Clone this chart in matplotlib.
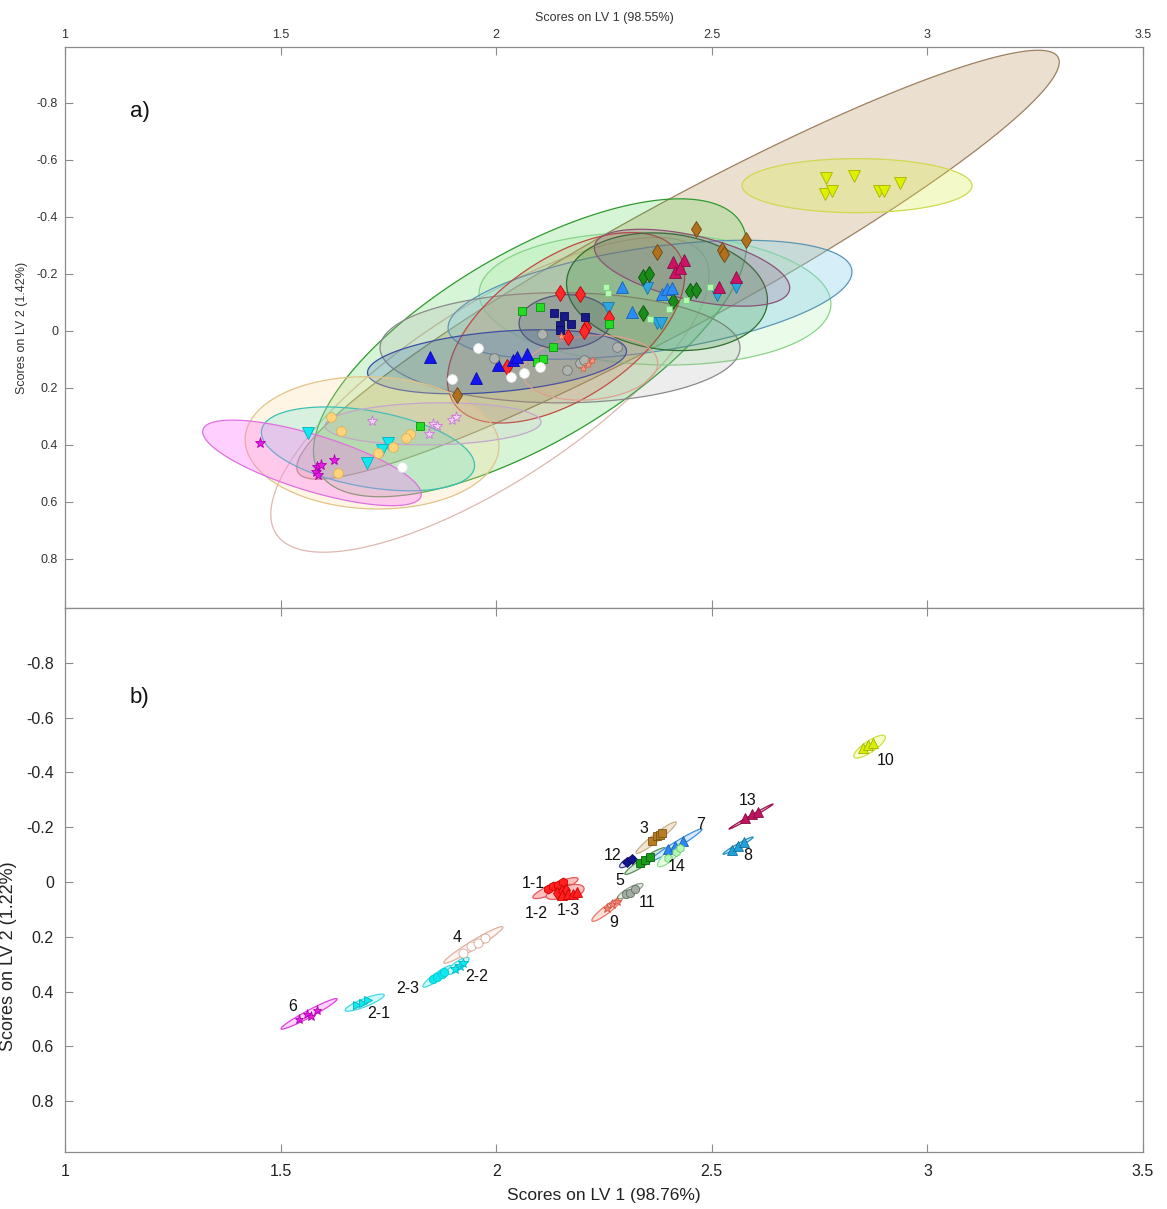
import numpy as np
import matplotlib
matplotlib.use("Agg")
import matplotlib.pyplot as plt
from matplotlib.patches import Polygon

plt.rcParams['font.family'] = ['Liberation Sans', 'DejaVu Sans']

# ---------------- Panel a: scores (LV1, LV2) ----------------
a_groups = ['brown', 'yellow', 'skyblue', 'crimson', 'dgreen', 'dodger', 'pgreen', 'red',
            'navy', 'lime', 'blue', 'white', 'gray', 'salmon', 'violet', 'magenta', 'cyan', 'orange']
a_x = {
    'brown':   [1.909, 2.373, 2.463, 2.524, 2.528, 2.579],
    'yellow':  [2.764, 2.830, 2.763, 2.778, 2.888, 2.900, 2.936],
    'skyblue': [2.350, 2.259, 2.373, 2.382, 2.512, 2.556],
    'crimson': [2.410, 2.436, 2.415, 2.426, 2.517, 2.556],
    'dgreen':  [2.340, 2.354, 2.410, 2.449, 2.463, 2.340],
    'dodger':  [2.292, 2.315, 2.385, 2.396, 2.408],
    'pgreen':  [2.255, 2.259, 2.357, 2.401, 2.440, 2.496],
    'red':     [2.148, 2.194, 2.208, 2.204, 2.167, 2.025, 2.262],
    'navy':    [2.134, 2.157, 2.206, 2.173, 2.148, 2.148],
    'lime':    [2.060, 2.102, 2.132, 2.095, 2.109, 2.262, 1.823],
    'blue':    [1.847, 1.953, 2.004, 2.039, 2.048, 2.071],
    'white':   [1.958, 1.897, 2.034, 2.064, 2.102, 1.782],
    'gray':    [2.106, 1.995, 2.164, 2.194, 2.204, 2.280],
    'salmon':  [2.201, 2.222, 2.213, 2.150],
    'violet':  [1.712, 1.853, 1.863, 1.844, 1.897, 1.907],
    'magenta': [1.452, 1.584, 1.594, 1.582, 1.587, 1.624],
    'cyan':    [1.564, 1.749, 1.735, 1.700],
    'orange':  [1.617, 1.640, 1.800, 1.791, 1.761, 1.726, 1.633],
}
a_y = {
    'brown':   [0.225, -0.277, -0.358, -0.284, -0.270, -0.319],
    'yellow':  [-0.536, -0.544, -0.481, -0.489, -0.489, -0.489, -0.518],
    'skyblue': [-0.151, -0.081, -0.028, -0.028, -0.126, -0.154],
    'crimson': [-0.242, -0.249, -0.207, -0.221, -0.154, -0.189],
    'dgreen':  [-0.189, -0.200, -0.105, -0.140, -0.144, -0.063],
    'dodger':  [-0.154, -0.067, -0.130, -0.147, -0.151],
    'pgreen':  [-0.154, -0.133, -0.042, -0.077, -0.109, -0.154],
    'red':     [-0.133, -0.130, -0.014, 0.000, 0.021, 0.126, -0.046],
    'navy':    [-0.063, -0.053, -0.049, -0.025, -0.021, -0.004],
    'lime':    [-0.070, -0.084, 0.056, 0.109, 0.098, -0.025, 0.333],
    'blue':    [0.091, 0.165, 0.119, 0.102, 0.091, 0.081],
    'white':   [0.060, 0.168, 0.161, 0.147, 0.126, 0.477],
    'gray':    [0.011, 0.095, 0.137, 0.112, 0.102, 0.056],
    'salmon':  [0.130, 0.102, 0.116, 0.018],
    'violet':  [0.316, 0.326, 0.333, 0.361, 0.312, 0.302],
    'magenta': [0.393, 0.477, 0.470, 0.495, 0.505, 0.453],
    'cyan':    [0.358, 0.393, 0.418, 0.463],
    'orange':  [0.302, 0.351, 0.361, 0.375, 0.407, 0.428, 0.498],
}
# confidence ellipses, panel a: centre, semi-major vector (data units), minor/major ratio
a_ell_groups = ['white', 'brown', 'lime', 'pgreen', 'skyblue', 'gray', 'red', 'dgreen', 'crimson',
                'yellow', 'blue', 'orange', 'cyan', 'magenta', 'violet', 'salmon', 'navy']
a_ell_cx = [1.9856, 2.4216, 2.0784, 2.3683, 2.3567, 2.1480, 2.1619, 2.3961, 2.4541,
            2.8367, 2.0019, 1.7120, 1.7027, 1.5728, 1.8534, 2.2175, 2.1596]
a_ell_cy = [0.2246, -0.2316, 0.0596, -0.1123, -0.1088, 0.0596, -0.0105, -0.1368, -0.2211,
            -0.5088, 0.1088, 0.3930, 0.4140, 0.4632, 0.3263, 0.1298, -0.0316]
a_ell_ux = [0.4960, 0.8815, 0.4896, 0.4079, 0.4680, 0.4174, 0.2596, 0.2324, 0.2259,
            0.2667, 0.3003, 0.2943, 0.2467, 0.2528, 0.2505, 0.1570, 0.1065]
a_ell_uy = [-0.4874, -0.7274, -0.4362, 0.0214, -0.1046, 0.0000, -0.2649, 0.0432, 0.0789,
            0.0000, -0.0398, 0.0155, 0.0660, 0.1169, -0.0066, -0.0208, -0.0084]
a_ell_ratio = [0.345, 0.143, 0.388, 0.375, 0.255, 0.306, 0.518, 0.574, 0.32,
               0.235, 0.231, 0.52, 0.352, 0.246, 0.194, 0.47, 0.587]

# ---------------- Panel b: scores (LV1, LV2) ----------------
b_groups = ['6', '2-1', '2-3', '2-2', '4', '1-1', '1-2', '1-3', '9', '11', '3', '12', '5',
            '7', '14', '13', '8', '10']
b_x = {
    '6':   [1.543, 1.561, 1.571, 1.584],
    '2-1': [1.677, 1.691, 1.702],
    '2-3': [1.853, 1.863, 1.874, 1.879],
    '2-2': [1.904, 1.916, 1.923],
    '4':   [1.923, 1.942, 1.958, 1.974],
    '1-1': [2.120, 2.132, 2.143, 2.155],
    '1-2': [2.141, 2.153, 2.162],
    '1-3': [2.153, 2.167, 2.178, 2.187],
    '9':   [2.257, 2.269, 2.280],
    '11':  [2.301, 2.310, 2.322],
    '3':   [2.361, 2.372, 2.379, 2.384],
    '12':  [2.303, 2.315],
    '5':   [2.333, 2.345, 2.357],
    '7':   [2.398, 2.415, 2.433],
    '14':  [2.398, 2.417, 2.426],
    '13':  [2.577, 2.593, 2.607],
    '8':   [2.547, 2.561, 2.575],
    '10':  [2.851, 2.862, 2.874],
}
b_y = {
    '6':   [0.499, 0.481, 0.488, 0.466],
    '2-1': [0.448, 0.441, 0.430],
    '2-3': [0.353, 0.346, 0.335, 0.328],
    '2-2': [0.317, 0.306, 0.295],
    '4':   [0.259, 0.233, 0.222, 0.204],
    '1-1': [0.026, 0.015, 0.011, 0.000],
    '1-2': [0.040, 0.033, 0.029],
    '1-3': [0.047, 0.044, 0.044, 0.036],
    '9':   [0.095, 0.080, 0.069],
    '11':  [0.044, 0.040, 0.026],
    '3':   [-0.149, -0.168, -0.171, -0.179],
    '12':  [-0.073, -0.084],
    '5':   [-0.069, -0.080, -0.091],
    '7':   [-0.120, -0.131, -0.149],
    '14':  [-0.087, -0.109, -0.124],
    '13':  [-0.233, -0.248, -0.255],
    '8':   [-0.117, -0.131, -0.146],
    '10':  [-0.488, -0.499, -0.506],
}
b_ell_cx = {'6': 1.566, '2-1': 1.695, '2-3': 1.864, '2-2': 1.911, '4': 1.947, '1-1': 2.1375,
            '1-2': 2.153, '1-3': 2.171, '9': 2.257, '11': 2.311, '3': 2.371, '12': 2.304,
            '5': 2.345, '7': 2.417, '14': 2.404, '13': 2.591, '8': 2.561, '10': 2.866}
b_ell_cy = {'6': 0.481, '2-1': 0.440, '2-3': 0.344, '2-2': 0.306, '4': 0.2295, '1-1': 0.022,
            '1-2': 0.036, '1-3': 0.036, '9': 0.100, '11': 0.033, '3': -0.162, '12': -0.073,
            '5': -0.0765, '7': -0.135, '14': -0.098, '13': -0.239, '8': -0.133, '10': -0.494}
b_ell_ux = {'6': 0.0649, '2-1': 0.0452, '2-3': 0.0336, '2-2': 0.0255, '4': 0.0684, '1-1': 0.0522,
            '1-2': 0.037, '1-3': 0.0325, '9': 0.0348, '11': 0.029, '3': 0.0464, '12': 0.0174,
            '5': 0.0464, '7': 0.0603, '14': 0.029, '13': 0.051, '8': 0.0348, '10': 0.036}
b_ell_uy = {'6': -0.0546, '2-1': -0.0281, '2-3': -0.0383, '2-2': -0.0291, '4': -0.0656, '1-1': -0.0346,
            '1-2': -0.018, '1-3': -0.0146, '9': -0.0419, '11': -0.0255, '3': -0.0565, '12': -0.0182,
            '5': -0.0474, '7': -0.0583, '14': -0.040, '13': -0.0455, '8': -0.031, '10': -0.038}
b_ell_ratio = {'6': 0.11, '2-1': 0.19, '2-3': 0.2, '2-2': 0.3, '4': 0.12, '1-1': 0.2,
               '1-2': 0.35, '1-3': 0.45, '9': 0.2, '11': 0.25, '3': 0.15, '12': 0.35,
               '5': 0.15, '7': 0.1, '14': 0.3, '13': 0.05, '8': 0.1, '10': 0.3}
b_label_x = {'6': 1.529, '2-1': 1.728, '2-3': 1.795, '2-2': 1.955, '4': 1.909, '1-1': 2.085,
             '1-2': 2.092, '1-3': 2.167, '9': 2.273, '11': 2.350, '3': 2.343, '12': 2.269,
             '5': 2.287, '7': 2.475, '14': 2.419, '13': 2.582, '8': 2.584, '10': 2.902}
b_label_y = {'6': 0.455, '2-1': 0.481, '2-3': 0.390, '2-2': 0.346, '4': 0.204, '1-1': 0.004,
             '1-2': 0.113, '1-3': 0.102, '9': 0.146, '11': 0.073, '3': -0.197, '12': -0.098,
             '5': -0.007, '7': -0.211, '14': -0.055, '13': -0.299, '8': -0.098, '10': -0.444}

xticks = [1, 1.5, 2, 2.5, 3, 3.5]
xticklabels = ['1', '1.5', '2', '2.5', '3', '3.5']
yticks = [-0.8, -0.6, -0.4, -0.2, 0, 0.2, 0.4, 0.6, 0.8]
yticklabels = ['-0.8', '-0.6', '-0.4', '-0.2', '0', '0.2', '0.4', '0.6', '0.8']

# ---------------- styles ----------------
a_mstyle = {
    'brown':   ('d', '#b0701c', '#6e4510', 8),
    'yellow':  ('v', '#dcf000', '#a8b400', 8),
    'skyblue': ('v', '#2ea6e0', '#1a78a8', 8),
    'crimson': ('^', '#cc1466', '#8a0c44', 8),
    'dgreen':  ('d', '#1a8c1a', '#0c500c', 8),
    'dodger':  ('^', '#2a8cf5', '#1a62b8', 8),
    'pgreen':  ('s', '#b4f8b4', '#78d078', 5),
    'red':     ('d', '#ff2a2a', '#c00000', 8),
    'navy':    ('s', '#181a8c', '#0c0c58', 6),
    'lime':    ('s', '#22dd22', '#109010', 5.5),
    'blue':    ('^', '#1414f0', '#0a0ab0', 8),
    'white':   ('o', '#ffffff', '#e6e6e6', 7),
    'gray':    ('o', '#b0b4b0', '#6e786e', 7),
    'salmon':  ('*', '#f89880', '#d86850', 6),
    'violet':  ('*', '#f4d0f4', '#c878d8', 8),
    'magenta': ('*', '#e41ee4', '#b000b0', 8),
    'cyan':    ('v', '#10e8f0', '#00b0c0', 8),
    'orange':  ('o', '#ffd47c', '#e0b050', 7),
}
a_estyle = {
    'white':   ((1, 1, 1, 0.0), '#dcb8b0'),
    'brown':   ((0.78, 0.66, 0.47, 0.35), '#9c8060'),
    'lime':    ((0.20, 0.80, 0.20, 0.20), '#2f9a2f'),
    'pgreen':  ((0.56, 0.93, 0.56, 0.18), '#88d488'),
    'skyblue': ((0.53, 0.81, 0.92, 0.35), '#5a96b4'),
    'gray':    ((0.62, 0.62, 0.62, 0.18), '#8a8a8a'),
    'red':     ((0.82, 0.40, 0.28, 0.17), '#c04a40'),
    'dgreen':  ((0.13, 0.52, 0.13, 0.20), '#2e6e2e'),
    'crimson': ((0.58, 0.30, 0.55, 0.22), '#8e5078'),
    'yellow':  ((0.86, 0.92, 0.24, 0.28), '#d0d850'),
    'blue':    ((0.16, 0.38, 0.72, 0.22), '#3e4ea0'),
    'orange':  ((1.00, 0.86, 0.58, 0.25), '#e2c488'),
    'cyan':    ((0.25, 0.88, 0.82, 0.20), '#3cc0b4'),
    'magenta': ((1.00, 0.40, 1.00, 0.30), '#e070e0'),
    'violet':  ((0.78, 0.62, 0.80, 0.12), '#c4a6cc'),
    'salmon':  ((0.98, 0.50, 0.45, 0.07), '#e0a090'),
    'navy':    ((0.28, 0.28, 0.45, 0.22), '#55557a'),
}
b_style = {
    '6':   ('*', '#e224e2', '#b000b0', 6.5, '#ffd6ff', '#e040e0'),
    '2-1': ('>', '#10e8f0', '#00b0c0', 6, '#cffafa', '#40d8e4'),
    '2-3': ('o', '#10e8f0', '#00c8d8', 6, '#cffafa', '#40d8e4'),
    '2-2': ('*', '#10e8f0', '#00b8c8', 7, '#cffafa', '#40d8e4'),
    '4':   ('o', '#ffffff', '#d8a898', 6.5, '#fff4f0', '#e0b0a0'),
    '1-1': ('h', '#ff2020', '#d00000', 6.5, '#ffc0c0', '#e05858'),
    '1-2': ('d', '#ff2020', '#d00000', 6.5, '#ffc0c0', '#e05858'),
    '1-3': ('^', '#ff2020', '#d00000', 6.5, '#ffc0c0', '#e05858'),
    '9':   ('*', '#f48070', '#d05848', 6.5, '#ffe0d8', '#e87a68'),
    '11':  ('o', '#a4aca4', '#607060', 6, '#e4ece4', '#90a090'),
    '3':   ('s', '#b87c22', '#7a5414', 5.5, '#f2e6d2', '#c8b090'),
    '12':  ('D', '#14148c', '#0a0a60', 5, '#d8d8f0', '#404090'),
    '5':   ('s', '#1c9a1c', '#0c600c', 5.5, '#d4ecd4', '#5a8a5a'),
    '7':   ('^', '#2a88f0', '#1460c0', 6.5, '#d8eaff', '#3e8ee0'),
    '14':  ('h', '#b4f8b4', '#70c870', 6, '#e4ffe4', '#90e090'),
    '13':  ('^', '#c41262', '#80103e', 6.5, '#f0c8d8', '#a01050'),
    '8':   ('^', '#22a2d8', '#12709e', 6.5, '#d4eef8', '#2090c0'),
    '10':  ('^', '#d8f000', '#a0b000', 6.5, '#f8ffc8', '#cce040'),
}


def draw_ellipse(ax, cx, cy, ux, uy, ratio, face, edge, lw=0.9, z=1):
    """Ellipse from centre + semi-major vector (data); minor axis perpendicular on screen."""
    T = ax.transData
    t = np.linspace(0, 2 * np.pi, 240)
    p0 = T.transform((cx, cy))
    p1 = T.transform((cx + ux, cy + uy))
    u = p1 - p0
    v = ratio * np.array([-u[1], u[0]])
    pts = p0 + np.outer(np.cos(t), u) + np.outer(np.sin(t), v)
    d = T.inverted().transform(pts)
    ax.add_patch(Polygon(d, closed=True, facecolor=face, edgecolor=edge, lw=lw, zorder=z))


W, H = 1167, 1209
fig = plt.figure(figsize=(W / 100, H / 100), dpi=100)
L = 65 / W
AW = (1143 - 65) / W
axa = fig.add_axes([L, 1 - 608 / H, AW, (608 - 47) / H])
axb = fig.add_axes([L, 1 - 1152 / H, AW, (1152 - 608) / H])

frame = '#8c8c8c'
for ax in (axa, axb):
    ax.set_xlim(1, 3.5)
    for s in ax.spines.values():
        s.set_color(frame)
        s.set_linewidth(0.9)
    ax.set_xticks(xticks)
    ax.set_yticks(yticks)
    ax.tick_params(direction='in', top=True, right=True, length=6, color=frame, width=0.8)
axa.set_ylim(0.972, -0.995)
axb.set_ylim(0.985, -1.0)

# panel a axes text
axa.xaxis.set_ticks_position('both')
axa.tick_params(axis='x', labeltop=True, labelbottom=False, labelsize=9, labelcolor='#333333', pad=4)
axa.tick_params(axis='y', labelsize=9, labelcolor='#333333', pad=5)
axa.set_xticklabels(xticklabels)
axa.set_yticklabels(yticklabels)
axa.xaxis.set_label_position('top')
axa.set_xlabel('Scores on LV 1 (98.55%)', fontsize=9, color='#333333', labelpad=6)
axa.set_ylabel('Scores on LV 2 (1.42%)', fontsize=9, color='#333333', labelpad=6)

axb.tick_params(axis='x', labelsize=11.5, labelcolor='#222222', pad=9)
axb.tick_params(axis='y', labelsize=11.5, labelcolor='#222222', pad=8)
axb.set_xticklabels(xticklabels)
axb.set_yticklabels(yticklabels)
axb.set_xlabel('Scores on LV 1 (98.76%)', fontsize=12.5, color='#222222', labelpad=6)
axb.set_ylabel('Scores on LV 2 (1.22%)', fontsize=13, color='#222222')
axb.yaxis.set_label_coords(-0.0445, 0.36)

# panel a ellipses
for i, g in enumerate(a_ell_groups):
    face, edge = a_estyle[g]
    draw_ellipse(axa, a_ell_cx[i], a_ell_cy[i], a_ell_ux[i], a_ell_uy[i], a_ell_ratio[i],
                 face, edge, lw=0.9, z=1 + i * 0.01)

# panel a points
for g in a_groups:
    m, fc, ec, ms = a_mstyle[g]
    axa.plot(a_x[g], a_y[g], linestyle='none', marker=m, markersize=ms,
             markerfacecolor=fc, markeredgecolor=ec, markeredgewidth=0.6, zorder=5)

axa.text(0.060, 0.875, 'a)', transform=axa.transAxes, fontsize=16, color='#111111', va='baseline')

# panel b
for g in b_groups:
    m, fc, ec, ms, efc, eec = b_style[g]
    draw_ellipse(axb, b_ell_cx[g], b_ell_cy[g], b_ell_ux[g], b_ell_uy[g], b_ell_ratio[g],
                 efc, eec, lw=0.9, z=2)
for g in b_groups:
    m, fc, ec, ms, efc, eec = b_style[g]
    axb.plot(b_x[g], b_y[g], linestyle='none', marker=m, markersize=ms,
             markerfacecolor=fc, markeredgecolor=ec, markeredgewidth=0.6, zorder=5)
    axb.text(b_label_x[g], b_label_y[g], g, fontsize=11.5, color='#111111',
             ha='center', va='center', zorder=6)

axb.text(0.060, 0.825, 'b)', transform=axb.transAxes, fontsize=16, color='#111111', va='baseline')

fig.savefig('out.png', dpi=100, facecolor='white')
